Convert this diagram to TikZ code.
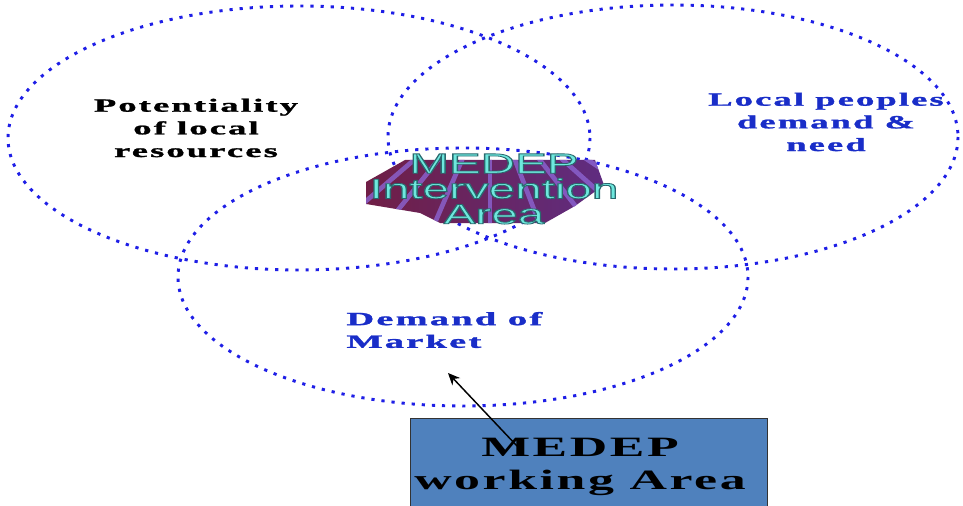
\documentclass[tikz,border=0pt]{standalone}
\usepackage{fontspec}
\usepackage{graphicx}
\usetikzlibrary{arrows.meta,calc}
\newfontfamily\widefont[LetterSpace=6,BoldFeatures={FakeBold=1.2}]{Liberation Serif}
\newfontfamily\boxfont[LetterSpace=5]{Liberation Serif}
\newfontfamily\areafont{Liberation Sans}
\newcommand{\wideline}[2][1.95]{\scalebox{#1}[1]{#2}}
\newcommand{\outlined}[1]{\special{pdf:literal direct 2 Tr 0.6 w 0.16 0.41 0.43 RG}#1\special{pdf:literal direct 0 Tr}}
\definecolor{vennblue}{RGB}{30,30,230}
\definecolor{textblue}{RGB}{25,45,200}
\definecolor{boxblue}{RGB}{79,129,189}
\definecolor{areacyan}{RGB}{110,232,222}
\definecolor{fanred}{RGB}{112,30,68}
\definecolor{fandeep}{RGB}{95,45,130}
\definecolor{fanpurple}{RGB}{140,100,210}
\tikzset{every picture/.style={line width=0.75pt}}
\tikzset{
  venn/.style={color=vennblue, line width=2.2pt, dash pattern=on 2.4pt off 5.2pt},
  circlelabel/.style={inner sep=0pt, align=center, font=\widefont\bfseries\fontsize{14}{17}\selectfont},
  arealabel/.style={inner sep=0pt, align=center, font=\areafont\fontsize{21}{19}\selectfont},
}

\begin{document}
\begin{tikzpicture}[x=0.75pt,y=0.75pt,yscale=-1,xscale=1]
\useasboundingbox (0,0) rectangle (963,506);

%Shape: Ellipse (resources)
\draw [venn] (299,138) ellipse [x radius=291, y radius=132];
%Shape: Ellipse (people)
\draw [venn] (673,137) ellipse [x radius=285, y radius=132];
%Shape: Ellipse (market)
\draw [venn] (463,277) ellipse [x radius=285, y radius=129];

%Shape: 3D fan behind the intervention label
\begin{scope}
\clip (405,160) -- (595,160) -- (604,185) -- (575,206) -- (545,223) -- (440,223) -- (420,213) -- (366,204) -- (366,182) -- cycle ;
\shade [left color=fanred, right color=fandeep] (360,155) rectangle (610,225) ;
\foreach \xa in {372,392,414,438,462,490,515,540,563,588}
  \draw [color=fanpurple, line width=3.5pt, opacity=0.8] (490,95) -- ($(490,95)!2.4!(\xa,160)$) ;
\end{scope}

% Text Node
\node (inter) [arealabel, text=areacyan] at (494,189) {\wideline[1.7]{\outlined{MEDEP}}\\\wideline[1.7]{\outlined{Intervention}}\\\wideline[1.7]{\outlined{Area}}};

% Text Node
\node (resources) [circlelabel] at (196,128) {\wideline{Potentiality}\\\wideline{of local}\\\wideline{resources}};
% Text Node
\node (people) [circlelabel, text=textblue] at (826,122) {\wideline{Local peoples}\\\wideline{demand \&}\\\wideline{need}};
% Text Node
\node (market) [circlelabel, text=textblue, align=left, anchor=west] at (346,330) {\wideline[2.05]{Demand of}\\\wideline[2.05]{Market}};

%Shape: Rectangle
\node (working) [draw=black!80, fill=boxblue, minimum width=267.75pt, minimum height=72pt, anchor=north west, inner sep=0pt] at (410,418) {};
% Text Node
\node (worktext) [inner sep=0pt, align=center, font=\boxfont\bfseries\fontsize{21}{25}\selectfont] at (580,467) {\wideline[1.85]{MEDEP}\\\wideline[1.85]{working Area}};

%Straight Lines
\coordinate (armstart) at (517,446);
\coordinate (armtip) at (448,373);
\draw [-{Stealth[length=9pt,width=8pt]}, line width=1.1pt] (armstart) -- (armtip) ;

\end{tikzpicture}
\end{document}
